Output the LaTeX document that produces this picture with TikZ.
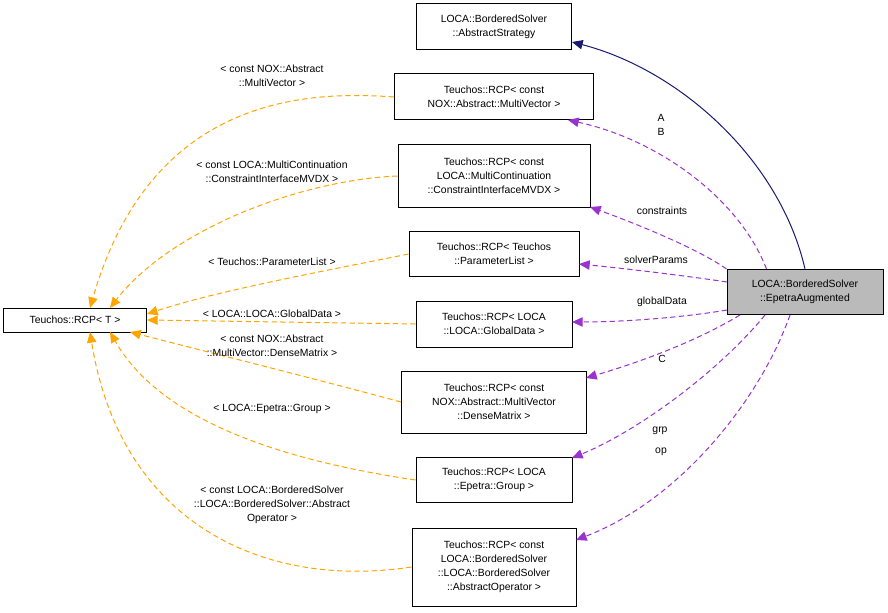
\documentclass[tikz,border=0pt]{standalone}
\usepackage{fontspec}
\setmainfont{Liberation Sans}
\usetikzlibrary{arrows.meta}
\definecolor{dorch}{HTML}{9A32CD}
\definecolor{orng}{HTML}{FFA500}
\definecolor{nvy}{HTML}{191970}
\newcommand{\lt}{\textless}
\newcommand{\gt}{\textgreater}
\begin{document}
\begin{tikzpicture}[x=0.75pt,y=-0.75pt,
  box/.style={draw,line width=0.75pt,minimum height=0pt,inner sep=0pt,align=center,font=\fontsize{7.8}{10.5}\selectfont},
  lab/.style={align=center,font=\fontsize{7.8}{10.5}\selectfont},
  use/.style={draw=orng,line width=0.75pt,dash pattern=on 4pt off 2.5pt,-{Triangle[length=8pt,width=7pt]}},
  mem/.style={draw=dorch,line width=0.75pt,dash pattern=on 4pt off 2.5pt,-{Triangle[length=8pt,width=7pt]}},
  inh/.style={draw=nvy,line width=0.75pt,-{Triangle[length=8pt,width=7pt]}}]
\useasboundingbox (0,0) rectangle (888,613);
\node[box,minimum width=155*0.75pt,minimum height=46*0.75pt] (as) at (494,27) {LOCA::BorderedSolver\\::AbstractStrategy};
\node[box,minimum width=199*0.75pt,minimum height=46*0.75pt] (mv) at (494,97) {Teuchos::RCP\lt{} const\\ NOX::Abstract::MultiVector \gt};
\node[box,minimum width=192*0.75pt,minimum height=62*0.75pt] (ci) at (494,176) {Teuchos::RCP\lt{} const\\ LOCA::MultiContinuation\\::ConstraintInterfaceMVDX \gt};
\node[box,minimum width=170*0.75pt,minimum height=45*0.75pt] (pl) at (494,254) {Teuchos::RCP\lt{} Teuchos\\::ParameterList \gt};
\node[box,minimum width=156*0.75pt,minimum height=46*0.75pt] (gd) at (494,324) {Teuchos::RCP\lt{} LOCA\\::LOCA::GlobalData \gt};
\node[box,minimum width=185*0.75pt,minimum height=62*0.75pt] (dm) at (494,402) {Teuchos::RCP\lt{} const\\ NOX::Abstract::MultiVector\\::DenseMatrix \gt};
\node[box,minimum width=156*0.75pt,minimum height=45*0.75pt] (gr) at (494,480) {Teuchos::RCP\lt{} LOCA\\::Epetra::Group \gt};
\node[box,minimum width=164*0.75pt,minimum height=78*0.75pt] (ao) at (494,567) {Teuchos::RCP\lt{} const\\ LOCA::BorderedSolver\\::LOCA::BorderedSolver\\::AbstractOperator \gt};
\node[box,fill=black!27,minimum width=156*0.75pt,minimum height=45*0.75pt] (ea) at (805,292) {LOCA::BorderedSolver\\::EpetraAugmented};
\node[box,minimum width=143*0.75pt,minimum height=24*0.75pt] (t) at (75,320) {Teuchos::RCP\lt{} T \gt};

\draw[inh] (ea.north) .. controls (780,160) and (680,70) .. (as.east |- 0,42);

\draw[mem] (ea.north west) ++(40,0) .. controls (740,200) and (660,140) .. (568,120);
\draw[mem] (ea.north west) .. controls (700,250) and (640,225) .. (590,207);
\draw[mem] (727,282) .. controls (680,275) and (620,268) .. (579,264);
\draw[mem] (727,310) .. controls (680,318) and (620,322) .. (572,322);
\draw[mem] (740,315) .. controls (690,345) and (630,365) .. (586,378);
\draw[mem] (765,315) .. controls (720,370) and (640,430) .. (572,458);
\draw[mem] (790,315) .. controls (760,400) and (680,500) .. (576,540);

\node[lab] at (661,125) {A\\B};
\node[lab] at (662,211) {constraints};
\node[lab] at (656,260) {solverParams};
\node[lab] at (662,302) {globalData};
\node[lab] at (662,359) {C};
\node[lab] at (660,431) {grp};
\node[lab] at (661,452) {op};

\draw[use] (mv.west) .. controls (300,90) and (150,100) .. (90,308);
\draw[use] (ci.west) .. controls (300,180) and (170,230) .. (110,308);
\draw[use] (pl.west) .. controls (330,270) and (220,290) .. (147,314);
\draw[use] (gd.west) -- (147,320);
\draw[use] (dm.west) .. controls (320,380) and (200,350) .. (130,332);
\draw[use] (gr.west) .. controls (280,460) and (160,420) .. (110,332);
\draw[use] (ao.west) .. controls (260,590) and (120,520) .. (90,332);

\node[lab] at (272,76) {\lt{} const NOX::Abstract\\::MultiVector \gt};
\node[lab] at (272,172) {\lt{} const LOCA::MultiContinuation\\::ConstraintInterfaceMVDX \gt};
\node[lab] at (272,262) {\lt{} Teuchos::ParameterList \gt};
\node[lab] at (272,314) {\lt{} LOCA::LOCA::GlobalData \gt};
\node[lab] at (272,346) {\lt{} const NOX::Abstract\\::MultiVector::DenseMatrix \gt};
\node[lab] at (272,409) {\lt{} LOCA::Epetra::Group \gt};
\node[lab] at (272,505) {\lt{} const LOCA::BorderedSolver\\::LOCA::BorderedSolver::Abstract\\Operator \gt};
\end{tikzpicture}
\end{document}
